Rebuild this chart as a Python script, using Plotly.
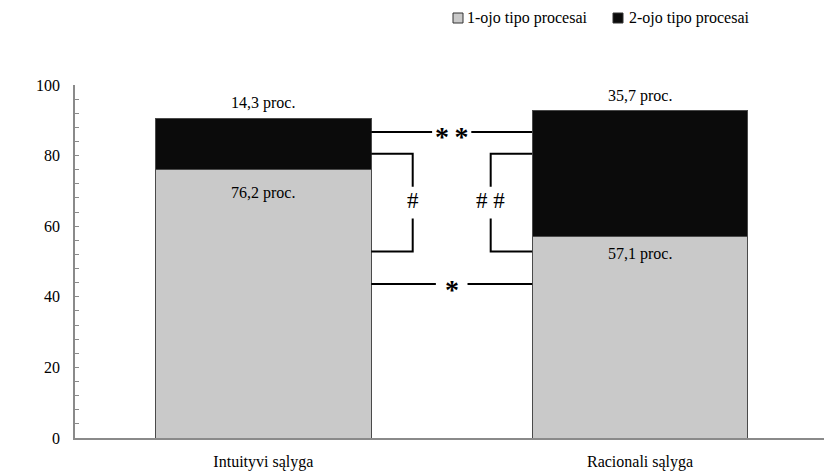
import plotly.graph_objects as go

categories = ["Intuityvi sąlyga", "Racionali sąlyga"]
series_names = ["1-ojo tipo procesai", "2-ojo tipo procesai"]
type1_values = [76.2, 57.1]
type2_values = [14.3, 35.7]
y_ticks = [0, 20, 40, 60, 80, 100]

# significance markers (y levels)
double_star_level = 86.7
single_star_level = 43.6
hash_top_level = 80.5
hash_bottom_level = 52.8

FONT = "Liberation Serif"
GRAY = "#c9c9c9"
BLACK = "#0b0b0b"
BAR_W = 0.573

fig = go.Figure()
fig.add_trace(go.Bar(x=categories, y=type1_values, name=series_names[0], width=BAR_W,
                     marker=dict(color=GRAY, line=dict(color="#4a4a4a", width=1))))
fig.add_trace(go.Bar(x=categories, y=type2_values, name=series_names[1], width=BAR_W,
                     marker=dict(color=BLACK, line=dict(color="#4a4a4a", width=1))))

def fmt(v):
    return f"{v:.1f}".replace(".", ",") + " proc."

annotations = []
above_shift = [16, 14]
below_shift = [-24, -18]
for i, cat in enumerate(categories):
    total = type1_values[i] + type2_values[i]
    annotations.append(dict(x=i, y=total, text=fmt(type2_values[i]), showarrow=False,
                            yanchor="middle", yshift=above_shift[i],
                            font=dict(family=FONT, size=16, color="black")))
    annotations.append(dict(x=i, y=type1_values[i], text=fmt(type1_values[i]), showarrow=False,
                            yanchor="middle", yshift=below_shift[i],
                            font=dict(family=FONT, size=16, color="black")))

shapes = []
L = dict(color="black", width=2)
x_left = 0 + BAR_W / 2
x_right = 1 - BAR_W / 2
x_mid = (x_left + x_right) / 2
# ** line
gap = 0.052
shapes.append(dict(type="line", xref="x", yref="y", x0=x_left, x1=x_mid - gap,
                   y0=double_star_level, y1=double_star_level, line=L))
shapes.append(dict(type="line", xref="x", yref="y", x0=x_mid + gap, x1=x_right,
                   y0=double_star_level, y1=double_star_level, line=L))
# * line
gap = 0.042
shapes.append(dict(type="line", xref="x", yref="y", x0=x_left, x1=x_mid - gap,
                   y0=single_star_level, y1=single_star_level, line=L))
shapes.append(dict(type="line", xref="x", yref="y", x0=x_mid + gap, x1=x_right,
                   y0=single_star_level, y1=single_star_level, line=L))
# brackets
bw = 0.11
hmid = (hash_top_level + hash_bottom_level) / 2
vgap = 4.5
for xb, xv in [(x_left, x_left + bw), (x_right, x_right - bw)]:
    shapes.append(dict(type="path", xref="x", yref="y",
                       path=f"M{xb},{hash_top_level} L{xv},{hash_top_level} L{xv},{hmid + vgap}",
                       line=L))
    shapes.append(dict(type="path", xref="x", yref="y",
                       path=f"M{xv},{hmid - vgap} L{xv},{hash_bottom_level} L{xb},{hash_bottom_level}",
                       line=L))

annotations.append(dict(x=x_mid, y=double_star_level, text="<b>*\u2009*</b>", showarrow=False,
                        yanchor="middle", yshift=-5, font=dict(family=FONT, size=28, color="black")))
annotations.append(dict(x=x_mid, y=single_star_level, text="<b>*</b>", showarrow=False,
                        yanchor="middle", yshift=-5, font=dict(family=FONT, size=28, color="black")))
annotations.append(dict(x=x_left + bw, y=hmid, text="#", showarrow=False,
                        yanchor="middle", yshift=2, font=dict(family=FONT, size=23, color="black")))
annotations.append(dict(x=x_right - bw, y=hmid, text="# #", showarrow=False,
                        yanchor="middle", yshift=2, font=dict(family=FONT, size=23, color="black")))

# legend (custom, drawn in pixel-like paper space)
W, H = 824, 471
ML, MR, MT, MB = 75, 0, 85, 33
pw, ph = W - ML - MR, H - MT - MB
def px(x):
    return (x - ML) / pw
def py(y):
    return (H - MB - y) / ph
leg = [(453, 465, GRAY, series_names[0]), (613, 627, BLACK, series_names[1])]
for sx, tx, col, name in leg:
    shapes.append(dict(type="rect", xref="paper", yref="paper",
                       x0=px(sx), x1=px(sx + 10), y0=py(23), y1=py(13),
                       fillcolor=col, line=dict(color="#333333", width=1)))
    annotations.append(dict(xref="paper", yref="paper", x=px(tx), y=py(18), text=name,
                            showarrow=False, xanchor="left", yanchor="middle",
                            font=dict(family=FONT, size=16, color="black")))

fig.update_layout(
    barmode="stack",
    width=W, height=H,
    margin=dict(l=ML, r=MR, t=MT, b=MB),
    plot_bgcolor="white", paper_bgcolor="white",
    showlegend=False,
    annotations=annotations,
    shapes=shapes,
    font=dict(family=FONT, size=16, color="black"),
)
fig.update_xaxes(range=[-0.5, -0.5 + pw / 376.7], showline=True, linecolor="#8a8a8a",
                 linewidth=1.5, ticks="", showgrid=False, ticklabelstandoff=8,
                 tickfont=dict(family=FONT, size=16, color="black"))
fig.update_yaxes(range=[0, 100], tickvals=y_ticks, showline=True, linecolor="#8a8a8a",
                 linewidth=1.5, ticks="inside", ticklen=4, tickcolor="#8a8a8a",
                 minor=dict(dtick=4, ticks="inside", ticklen=4, tickcolor="#8a8a8a"),
                 showgrid=False, zeroline=False, ticklabelstandoff=10,
                 tickfont=dict(family=FONT, size=16, color="black"))

fig.write_html("out.html", config={"displayModeBar": False},
               post_script="document.body.style.margin='0';document.body.style.overflow='hidden';")
